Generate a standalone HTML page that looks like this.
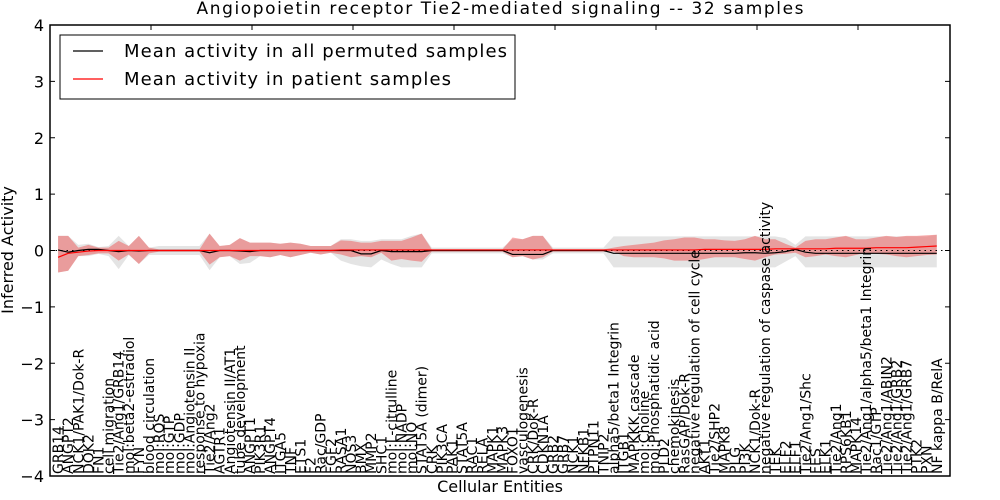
<!DOCTYPE html>
<html><head><meta charset="utf-8">
<style>
html,body{margin:0;padding:0;background:#fff;}
svg{display:block;font-family:"DejaVu Sans","Liberation Sans",sans-serif;}
</style></head>
<body>
<svg id="chart" width="1000" height="500" viewBox="0 0 1000 500" xmlns="http://www.w3.org/2000/svg">
  <rect x="0" y="0" width="1000" height="500" fill="#fff"/>
  <text x="500" y="14" text-anchor="middle" font-size="17" textLength="607">Angiopoietin receptor Tie2-mediated signaling -- 32 samples</text>
  <g id="plot"></g>
  <rect x="50" y="25" width="900" height="451" fill="none" stroke="#000" stroke-width="1.5"/>
  <g id="yticks"></g>
  <g id="xticks"></g>
  <text transform="translate(13,250) rotate(-90)" text-anchor="middle" font-size="16">Inferred Activity</text>
  <text x="500" y="492" text-anchor="middle" font-size="16">Cellular Entities</text>
  <g>
    <rect x="60" y="35" width="455" height="64" fill="#fff" stroke="#000" stroke-width="1"/>
    <line x1="73" y1="51" x2="103" y2="51" stroke="#000" stroke-width="1.2"/>
    <text x="124" y="57" font-size="18" textLength="383">Mean activity in all permuted samples</text>
    <line x1="73" y1="79" x2="103" y2="79" stroke="#f00" stroke-width="1.2"/>
    <text x="124" y="85" font-size="18" textLength="327">Mean activity in patient samples</text>
  </g>
</svg>
<script>
const categories = ["GRB14","ANGPT2","NCK1/PAK1/Dok-R","DOK2","FN1","cell migration","Tie2/Ang1/GRB14","mol:beta2-estradiol","FYN","blood circulation","mol:ROS","mol:GTP","mol:GDP","mol:Angiotensin II","response to hypoxia","Tie2/Ang2","AGTR1","Angiotensin II/AT1","tube development","ANGPT1","PIK3R1","ANGPT4","ITGA5","TNF","ETS1","F2","Rac/GDP","FGF2","RASA1","NOS3","BMX","MMP2","SHC1","mol:L-citrulline","mol:NADP","mol:NO","STAT5A (dimer)","CRK","PIK3CA","PAK1","STAT5A","RAC1","RELA","MAPK1","MAPK3","FOXO1","vasculogenesis","CRK/Dok-R","CDKN1A","GRB2","GRB7","NCK1","NFKB1","PTPN11","TNIP2","alpha5/beta1 Integrin","ITGB1","MAPKKK cascade","mol:Choline","mol:Phosphatidic acid","PLD2","chemokinesis","RasGAP/Dok-R","negative regulation of cell cycle","AKT1","Tie2/SHP2","MAPK8","PLG","PI3K","NCK1/Dok-R","negative regulation of caspase activity","TEK","ELF2","ELF1","Tie2/Ang1/Shc","FES","ELK1","Tie2/Ang1","RPS6KB1","MAPK14","Tie2/Ang1/alpha5/beta1 Integrin","Rac1/GTP","Tie2/Ang1/ABIN2","Tie2/Ang1/GRB2","Tie2/Ang1/GRB7","PTK2","PXN","NF kappa B/RelA"];
const greyHi = [.26,.26,.1,.12,.06,.08,.26,.08,.26,.05,.08,.08,.08,.08,.08,.3,.08,.1,.22,.14,.14,.14,.12,.14,.12,.08,.08,.08,.2,.2,.17,.17,.2,.2,.2,.26,.3,.05,.05,.05,.05,.05,.05,.05,.05,.2,.2,.26,.26,.05,.05,.05,.05,.05,.05,.25,.25,.25,.25,.25,.25,.25,.25,.25,.25,.25,.25,.25,.25,.25,.25,.25,.22,.1,.25,.25,.25,.25,.25,.25,.25,.25,.25,.25,.25,.25,.25,.28];
const greyLo = [-.39,-.36,-.1,-.1,-.06,-.1,-.33,-.08,-.24,-.08,-.08,-.08,-.08,-.08,-.08,-.35,-.12,-.1,-.24,-.22,-.1,-.12,-.08,-.12,-.08,-.04,-.07,-.04,-.18,-.24,-.28,-.3,-.16,-.24,-.3,-.3,-.3,-.05,-.05,-.05,-.05,-.05,-.05,-.05,-.05,-.12,-.1,-.16,-.16,-.05,-.05,-.05,-.05,-.05,-.05,-.3,-.3,-.3,-.3,-.3,-.3,-.3,-.3,-.3,-.3,-.3,-.3,-.3,-.3,-.3,-.3,-.3,-.2,-.1,-.3,-.3,-.3,-.3,-.3,-.3,-.3,-.3,-.3,-.3,-.3,-.3,-.3,-.3];
const redHi = [.26,.26,.05,.1,.05,.05,.17,.08,.26,.05,.02,.02,.02,.02,.02,.3,.08,.1,.22,.14,.14,.14,.12,.14,.12,.08,.08,.08,.18,.17,.14,.14,.17,.17,.17,.23,.3,.02,.02,.02,.02,.02,.02,.02,.02,.23,.2,.26,.26,.02,.02,.02,.02,.02,.02,.05,.08,.1,.12,.14,.18,.2,.23,.23,.2,.2,.18,.17,.2,.26,.2,.2,.12,.05,.17,.2,.2,.23,.26,.2,.2,.23,.26,.24,.26,.26,.27,.28];
const redLo = [-.39,-.36,-.1,-.08,-.05,-.05,-.18,-.07,-.24,-.05,-.02,-.02,-.02,-.02,-.02,-.25,-.12,-.1,-.18,-.1,-.1,-.12,-.08,-.12,-.08,-.04,-.07,-.04,-.07,-.12,-.1,-.12,-.04,-.18,-.15,-.18,-.2,-.02,-.02,-.02,-.02,-.02,-.02,-.02,-.02,-.12,-.1,-.16,-.12,-.02,-.02,-.02,-.02,-.02,-.02,-.02,-.1,-.12,-.12,-.12,-.14,-.18,-.18,-.18,-.15,-.12,-.12,-.12,-.15,-.18,-.12,-.07,-.06,-.04,-.12,-.1,-.07,-.1,-.12,-.08,-.04,-.06,-.07,-.1,-.12,-.1,-.08,-.07];
const permutedMean = [.01,-.03,0,.02,.02,0,-.02,0,-.01,0,0,0,0,0,0,-.04,0,0,-.01,-.02,0,0,0,0,0,0,0,0,0,0,-.06,-.06,0,-.02,-.02,-.02,-.02,0,0,0,0,0,0,0,0,-.07,-.07,-.07,-.07,0,0,0,0,0,0,-.05,-.05,-.05,-.05,-.05,-.05,-.05,-.05,-.05,-.05,-.05,-.05,-.05,-.04,-.04,-.05,-.04,-.02,.02,-.03,-.05,-.05,-.05,-.05,-.05,-.05,-.05,-.05,-.05,-.05,-.05,-.05,-.05];
const patientMean = [-.12,-.05,-.03,-.01,0,0,0,0,0,0,0,0,0,0,0,0,0,0,0,0,0,0,0,0,0,0,0,0,.01,.01,.01,.01,.01,.01,.01,.01,.01,.01,.01,.01,.01,.01,.01,.01,.01,.01,.01,.01,.01,.01,.01,.01,.01,.01,.01,.01,.01,.01,.01,.01,.01,.01,.01,.01,.02,.02,.02,.02,.02,.02,.02,.03,.03,.03,.03,.03,.03,.04,.04,.04,.04,.05,.05,.05,.05,.06,.07,.08];
const yTickValues = [-4,-3,-2,-1,0,1,2,3,4];
const yTickLabels = ["\u22124","\u22123","\u22122","\u22121","0","1","2","3","4"];

const NS = "http://www.w3.org/2000/svg";
const X0 = 50, UNIT = 10.1, YTOP = 25, YBOT = 476, YMIN = -4, YMAX = 4;
function xPos(i){ return X0 + UNIT * (i + 0.8); }
function yPos(v){ return YBOT - (v - YMIN) / (YMAX - YMIN) * (YBOT - YTOP); }
function mk(tag, attrs){ const e = document.createElementNS(NS, tag); for (const k in attrs) e.setAttribute(k, attrs[k]); return e; }

const plot = document.getElementById('plot');
function band(hi, lo, fill, op, name){
  let d = '';
  hi.forEach((v,i)=>{ d += (i ? 'L' : 'M') + xPos(i).toFixed(2) + ',' + yPos(v).toFixed(2); });
  for (let i = lo.length - 1; i >= 0; i--) d += 'L' + xPos(i).toFixed(2) + ',' + yPos(lo[i]).toFixed(2);
  const p = mk('path', {d: d + 'Z', fill: fill, 'fill-opacity': op, stroke: 'none'});
  
  
  plot.appendChild(p);
}
function line(vals, stroke, width, dash, name){
  let d = '';
  vals.forEach((v,i)=>{ d += (i ? 'L' : 'M') + xPos(i).toFixed(2) + ',' + yPos(v).toFixed(2); });
  const p = mk('path', {d: d, fill: 'none', stroke: stroke, 'stroke-width': width});
  if (dash) p.setAttribute('stroke-dasharray', dash);
  
  
  plot.appendChild(p);
}
band(greyHi, greyLo, '#d9d9d9', 0.7, 'permuted-range-band');
band(redHi, redLo, '#f03030', 0.4, 'patient-range-band');
const zeroLine = mk('line', {x1: 50, x2: 950, y1: yPos(0), y2: yPos(0), stroke: '#000', 'stroke-width': 1, 'stroke-dasharray': '1.5,4'});


plot.appendChild(zeroLine);
line(permutedMean, '#000', 1.2, null, 'permuted-mean-line');
line(patientMean, '#f00', 1.2, null, 'patient-mean-line');

const yg = document.getElementById('yticks');
yTickValues.forEach((v,k)=>{
  const y = yPos(v);
  const t1 = mk('line', {x1: 50, x2: 55, y1: y, y2: y, stroke: '#000', 'stroke-width': 1});
  
  
  yg.appendChild(t1);
  const t2 = mk('line', {x1: 945, x2: 950, y1: y, y2: y, stroke: '#000', 'stroke-width': 1});
  
  
  yg.appendChild(t2);
  const tx = mk('text', {x: 44, y: y + 6, 'text-anchor': 'end', 'font-size': 16});
  tx.textContent = yTickLabels[k];
  
  
  yg.appendChild(tx);
});

const xg = document.getElementById('xticks');
for (let k = 1; k <= 8; k++){
  const x = X0 + UNIT * 10 * k;
  const t = mk('line', {x1: x, x2: x, y1: 25, y2: 30, stroke: '#000', 'stroke-width': 1});
  
  
  xg.appendChild(t);
}
categories.forEach((c,i)=>{
  const x = xPos(i) + 5;
  const tx = mk('text', {transform: 'translate(' + x.toFixed(2) + ',474) rotate(-90)', 'font-size': 14});
  tx.textContent = c;
  
  
  xg.appendChild(tx);
});
</script>
</body></html>
